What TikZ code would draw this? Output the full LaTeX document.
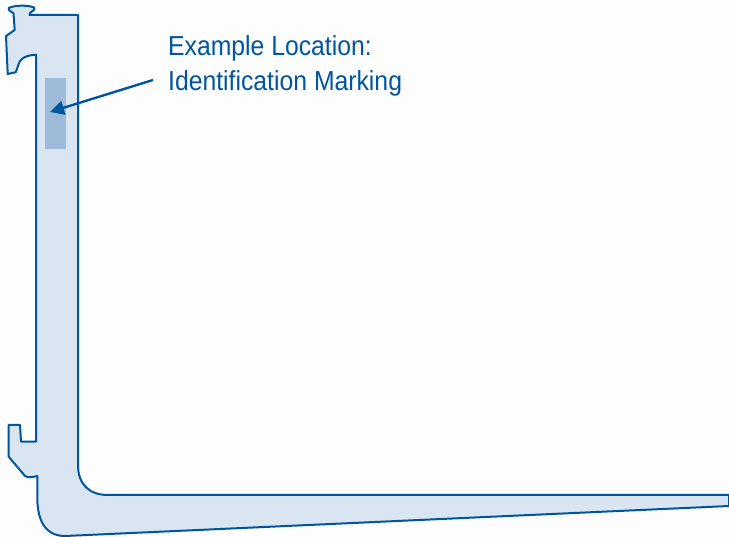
\documentclass[tikz,border=0pt]{standalone}
\usepackage{fontspec}
\setmainfont{Liberation Sans}[FakeStretch=0.9]
\usetikzlibrary{arrows.meta}
\definecolor{forkline}{HTML}{00559F}
\definecolor{forkfill}{HTML}{D9E5F1}
\definecolor{markfill}{HTML}{9DBBD8}
\definecolor{paper}{HTML}{FDFDFD}
\begin{document}
\begin{tikzpicture}
[
    x=1pt, y=-1pt,
    fork/.style={draw=forkline, fill=forkfill, line width=2pt, line join=round},
    marking/.style={fill=markfill, inner sep=0pt, minimum width=21pt, minimum height=71pt},
    callout/.style={text=forkline, align=left, anchor=north west, inner sep=0pt, font=\fontsize{27.5}{35}\selectfont},
    pointer/.style={draw=forkline, line width=2.4pt, -{Triangle[length=14pt,width=14pt]}},
]
\fill[paper] (0,0) rectangle (729,537);
\useasboundingbox (0,0) rectangle (729,537);
% the fork
\draw[fork] (78,15) -- (29.5,15) -- (30.5,12.5) .. controls (32,11) and (34.5,10.5) .. (34.5,9)
    -- (34,7.5) .. controls (28,5) and (15,5) .. (8.7,8) -- (9.3,10.5) -- (13.5,13.3) -- (14.7,30)
    -- (6,36) -- (7.7,74) -- (15.7,72.3) .. controls (18,68) and (18,62) .. (22,59)
    .. controls (25,56) and (31,55) .. (36,54.7) -- (36,441.7) -- (21,441.7) -- (20,425) -- (8.7,425)
    -- (8.7,456.7) -- (25,476) .. controls (28,478) and (33,477) .. (37.3,476) -- (37.3,500)
    .. controls (37.5,510) and (40,520) .. (43.5,525) .. controls (48,532) and (55,536) .. (65,536)
    -- (729,506) -- (729,495) -- (108,495) .. controls (90,495) and (78,485) .. (78,465) -- cycle;
\node[marking] (mark) at (55.5,113.5) {};
\node[callout] (label) at (168,35) {Example Location:\\Identification Marking};
\coordinate (tail) at (153,80);
\coordinate (head) at (50,112);
\draw[pointer] (tail) -- (head);
\end{tikzpicture}
\end{document}
